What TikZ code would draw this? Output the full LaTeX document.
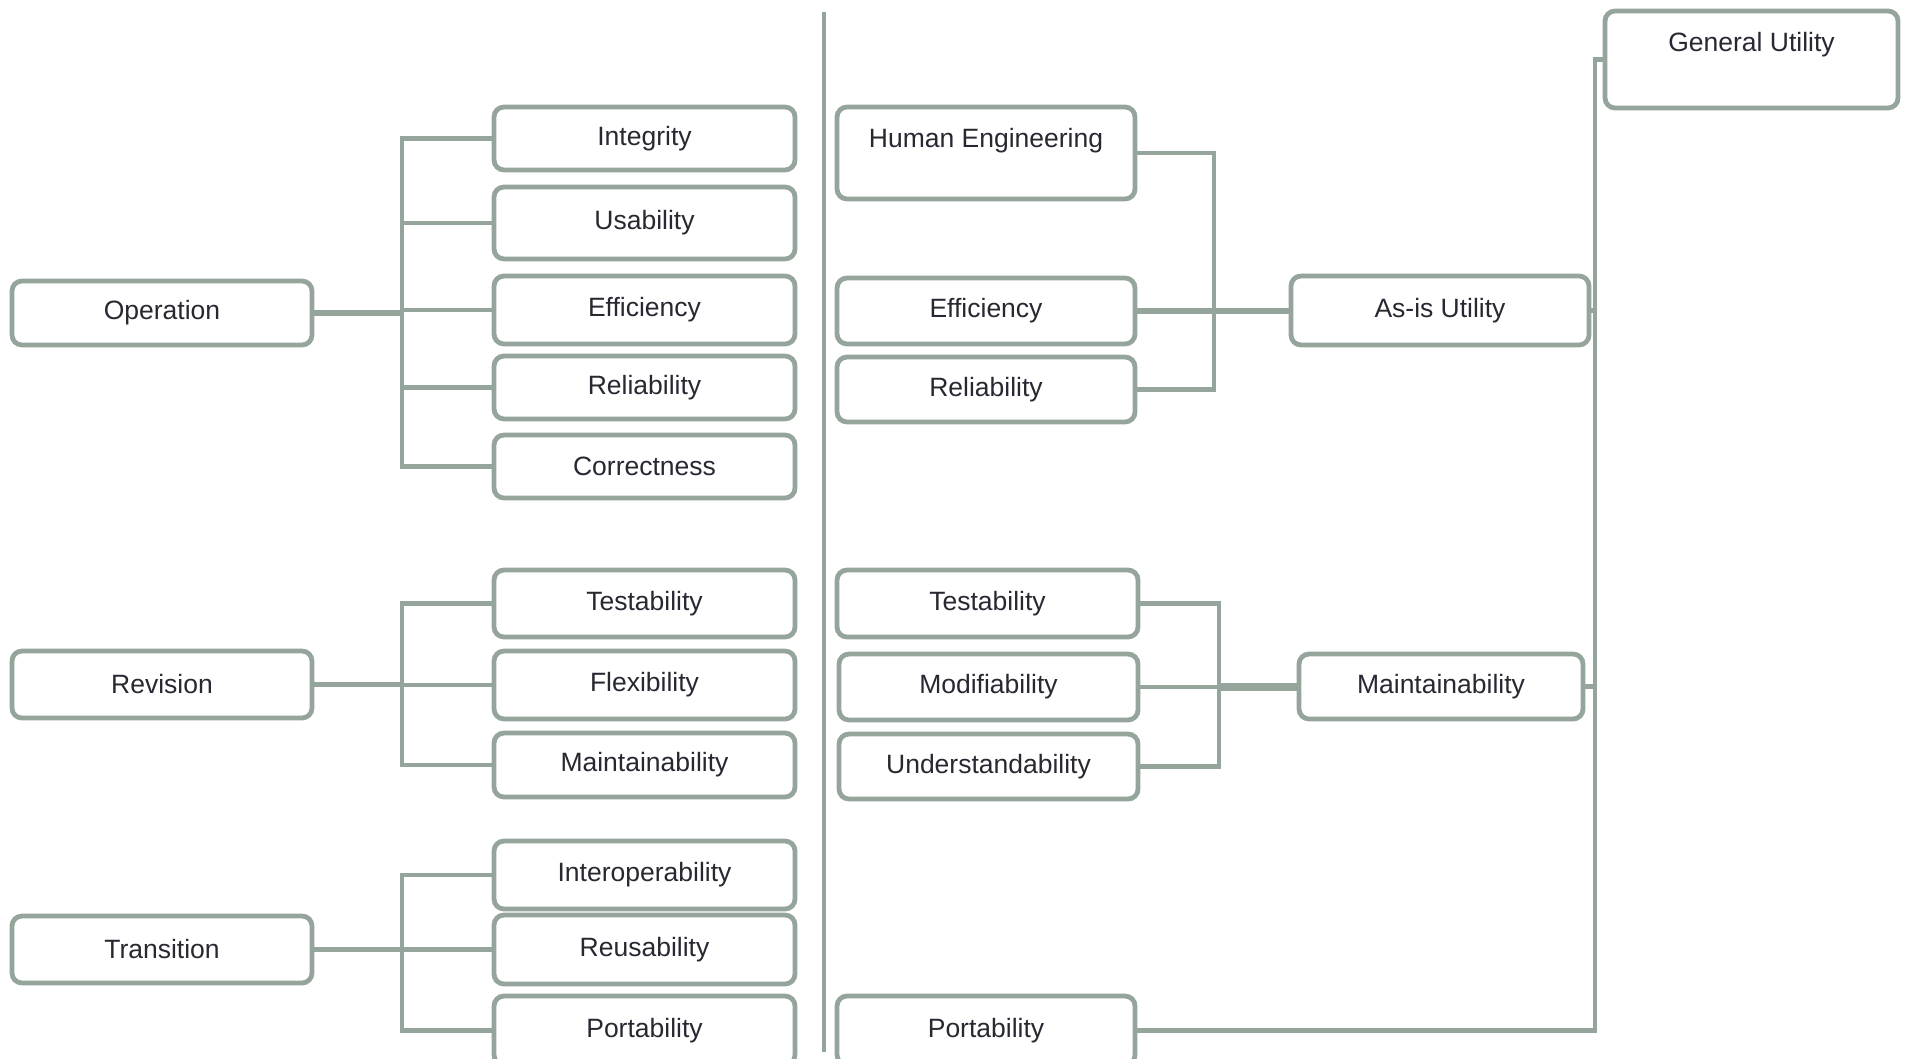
\documentclass[tikz,border=0pt]{standalone}
\usepackage{fontspec}
\setmainfont{Liberation Sans}
\definecolor{ln}{RGB}{149,165,155}
\definecolor{tx}{RGB}{40,40,50}
\begin{document}
\begin{tikzpicture}[x=1pt,y=-1pt,
  box/.style={draw=ln, line width=4.8pt, rounded corners=10pt, fill=white, text=tx,
    font=\fontsize{26.5}{30}\selectfont, inner sep=0pt, outer sep=0pt},
  lbl/.style={text=tx, font=\fontsize{26.5}{30}\selectfont, inner sep=0pt},
  conn/.style={draw=ln, line width=4.8pt}]
\useasboundingbox (0,0) rectangle (1905,1059);
% left column
\node[box, minimum width=300pt, minimum height=64pt] (op)  at (162,313)   {Operation};
\node[box, minimum width=300pt, minimum height=67pt] (rev) at (162,684.5) {Revision};
\node[box, minimum width=300pt, minimum height=67pt] (tra) at (162,949.5) {Transition};
% middle-left column
\node[box, minimum width=301pt, minimum height=63pt] (int)   at (644.5,138.5) {Integrity};
\node[box, minimum width=301pt, minimum height=72pt] (usa)   at (644.5,223)   {\raisebox{3pt}{Usability}};
\node[box, minimum width=301pt, minimum height=68pt] (eff)   at (644.5,310)   {Efficiency};
\node[box, minimum width=301pt, minimum height=63pt] (rel)   at (644.5,387.5) {Reliability};
\node[box, minimum width=301pt, minimum height=63pt] (cor)   at (644.5,466.5) {Correctness};
\node[box, minimum width=301pt, minimum height=67pt] (tes)   at (644.5,603.5) {Testability};
\node[box, minimum width=301pt, minimum height=68pt] (fle)   at (644.5,685)   {Flexibility};
\node[box, minimum width=301pt, minimum height=64pt] (mai)   at (644.5,765)   {Maintainability};
\node[box, minimum width=301pt, minimum height=68pt] (inter) at (644.5,875)   {Interoperability};
\node[box, minimum width=301pt, minimum height=69pt] (reu)   at (644.5,949.5) {\raisebox{2pt}{Reusability}};
\node[box, minimum width=301pt, minimum height=69pt] (por)   at (644.5,1030.5) {Portability};
% right side
\node[box, minimum width=298pt, minimum height=92pt] (hum)  at (986,153) {};
\node[lbl] (humt) at ([yshift=-34pt]hum.north) {Human Engineering};
\node[box, minimum width=298pt, minimum height=66pt] (eff2) at (986,311)   {Efficiency};
\node[box, minimum width=298pt, minimum height=65pt] (rel2) at (986,389.5) {Reliability};
\node[box, minimum width=298pt, minimum height=69pt] (asis) at (1440,310.5) {\raisebox{2pt}{As-is Utility}};
\node[box, minimum width=293pt, minimum height=97pt] (gen)  at (1751.5,59.5) {};
\node[lbl] (gent) at ([yshift=-34pt]gen.north) {General Utility};
\node[box, minimum width=301pt, minimum height=67pt] (tes2) at (987.5,603.5) {Testability};
\node[box, minimum width=299pt, minimum height=66pt] (mod)  at (988.5,687)   {Modifiability};
\node[box, minimum width=299pt, minimum height=65pt] (und)  at (988.5,766.5) {Understandability};
\node[box, minimum width=284pt, minimum height=65pt] (mai2) at (1441,686.5)  {Maintainability};
\node[box, minimum width=298pt, minimum height=69pt] (por2) at (986,1030.5)  {Portability};
% divider
\coordinate (dT) at (824,12);
\coordinate (dB) at (824,1052);
\draw[conn] (dT) -- (dB);
% left brackets
\coordinate (bL) at (402,0);
\draw[conn] (int.west) -- (int.west -| bL) -- (cor.west -| bL) -- (cor.west);
\draw[conn] (usa.west) -- (usa.west -| bL);
\draw[conn] (eff.west) -- (eff.west -| bL);
\draw[conn] (rel.west) -- (rel.west -| bL);
\draw[conn, line width=5.5pt] (op.east) -- (op.east -| bL);
\draw[conn] (tes.west) -- (tes.west -| bL) -- (mai.west -| bL) -- (mai.west);
\draw[conn] (fle.west) -- (fle.west -| bL);
\draw[conn, line width=5.5pt] (rev.east) -- (rev.east -| bL);
\draw[conn] (inter.west) -- (inter.west -| bL) -- (por.west -| bL) -- (por.west);
\draw[conn] (reu.west) -- (reu.west -| bL);
\draw[conn, line width=5.5pt] (tra.east) -- (tra.east -| bL);
% right brackets
\coordinate (bA) at (1214,0);
\draw[conn] (hum.east) -- (hum.east -| bA) -- (rel2.east -| bA) -- (rel2.east);
\draw[conn, line width=5.5pt] (eff2.east) -- (eff2.east -| asis.west);
\coordinate (bM) at (1219,0);
\draw[conn] (tes2.east) -- (tes2.east -| bM) -- (und.east -| bM) -- (und.east);
\draw[conn] (mod.east) -- (mod.east -| bM);
\draw[conn, line width=8pt] (mod.east -| bM) -- (mod.east -| mai2.west);
\coordinate (bG) at (1595,0);
\draw[conn] (gen.west) -- (gen.west -| bG) -- (por2.east -| bG) -- (por2.east);
\draw[conn] (asis.east) -- (asis.east -| bG);
\draw[conn] (mai2.east) -- (mai2.east -| bG);
\end{tikzpicture}
\end{document}
